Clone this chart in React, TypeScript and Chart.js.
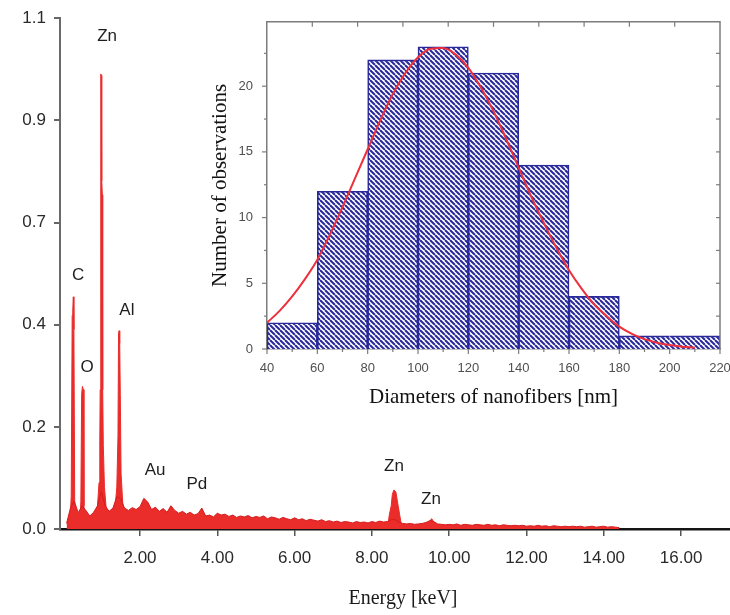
import React, { useEffect, useRef } from 'react';
import { Chart, registerables } from 'chart.js';

Chart.register(...registerables);

// ---------- EDX spectrum (main chart) ----------
const backgroundStartKeV = 0.1;
const backgroundStepKeV = 0.1;
const backgroundCounts = [
  0.012, 0.045, 0.06, 0.035, 0.05, 0.04, 0.028, 0.036, 0.05, 0.08,
  0.05, 0.038, 0.045, 0.07, 0.065, 0.045, 0.04, 0.046, 0.042, 0.048,
  0.066, 0.058, 0.042, 0.047, 0.038, 0.044, 0.036, 0.05, 0.04, 0.034,
  0.038, 0.032, 0.036, 0.03, 0.033, 0.045, 0.028, 0.03, 0.026, 0.034,
  0.03, 0.032, 0.027, 0.03, 0.025, 0.028, 0.026, 0.029, 0.024, 0.027,
  0.025, 0.028, 0.022, 0.026, 0.024, 0.021, 0.025, 0.022, 0.02, 0.024,
  0.02, 0.022, 0.018, 0.021, 0.019, 0.017, 0.02, 0.016, 0.018, 0.015,
  0.017, 0.014, 0.016, 0.015, 0.013, 0.016, 0.014, 0.015, 0.013, 0.016,
  0.014, 0.017, 0.015, 0.016, 0.02, 0.02, 0.015, 0.012, 0.011, 0.012,
  0.01, 0.011, 0.012, 0.014, 0.018, 0.016, 0.011, 0.01, 0.009, 0.01,
  0.009, 0.011, 0.008, 0.01, 0.009, 0.008, 0.01, 0.009, 0.008, 0.01,
  0.008, 0.009, 0.007, 0.009, 0.008, 0.007, 0.008, 0.007, 0.008, 0.006,
  0.007, 0.006, 0.008, 0.006, 0.007, 0.005, 0.007, 0.006, 0.005, 0.006,
  0.005, 0.006, 0.005, 0.006, 0.004, 0.005, 0.006, 0.004, 0.005, 0.006,
  0.004, 0.005, 0.004, 0.003,
];

// Characteristic peaks: C, O, Zn L, Al, Zn Kα, Zn Kβ
const peakEnergies = [
  0.18, 0.22, 0.245, 0.26, 0.275, 0.29, 0.31, 0.34,
  0.44, 0.47, 0.49, 0.51, 0.535, 0.55, 0.58,
  0.85, 0.9, 0.94, 0.96, 0.97, 0.98, 0.99, 1.0, 1.01, 1.025, 1.035, 1.05, 1.08, 1.12, 1.16,
  1.33, 1.37, 1.4, 1.43, 1.445, 1.46, 1.475, 1.49, 1.51, 1.55, 1.6,
  8.4, 8.45, 8.5, 8.53, 8.57, 8.62, 8.68, 8.72, 8.78,
  9.45, 9.5, 9.55, 9.6, 9.65,
];
const peakCounts = [
  0, 0.07, 0.46, 0.47, 0.5, 0.43, 0.06, 0,
  0, 0.06, 0.29, 0.307, 0.3, 0.05, 0,
  0, 0.05, 0.1, 0.19, 0.3, 0.71, 0.98, 0.977, 0.75, 0.72, 0.3, 0.18, 0.09, 0.05, 0,
  0, 0.06, 0.09, 0.2, 0.42, 0.427, 0.4, 0.29, 0.12, 0.06, 0,
  0, 0.03, 0.05, 0.075, 0.084, 0.08, 0.05, 0.03, 0,
  0, 0.018, 0.022, 0.015, 0,
];

const energyTicks = [2, 4, 6, 8, 10, 12, 14, 16];
const intensityTicks = [0, 0.22, 0.44, 0.66, 0.88, 1.1];

const elementLabels = ['Zn', 'C', 'O', 'Al', 'Au', 'Pd', 'Zn', 'Zn'];
const elementLabelEnergies = [1.15, 0.4, 0.63, 1.66, 2.39, 3.47, 8.57, 9.53];
const elementLabelHeights = [1.061, 0.546, 0.348, 0.47, 0.127, 0.097, 0.135, 0.064];

// ---------- Histogram of nanofiber diameters (inset) ----------
const diameterBinCenters = [50, 70, 90, 110, 130, 150, 170, 190, 210];
const diameterBinCounts = [2, 12, 22, 23, 21, 14, 4, 1, 1];

const fitDiameters = [
  40, 45, 50, 55, 60, 65, 70, 75, 80, 85, 90, 95, 100, 105, 110, 115, 120, 125,
  130, 135, 140, 145, 150, 155, 160, 165, 170, 175, 180, 185, 190, 195, 200, 205, 210,
];
const fitCounts = [
  2.0, 2.9, 4.0, 5.3, 6.8, 8.7, 10.8, 13.0, 15.2, 17.4, 19.4, 21.0, 22.2, 22.85, 22.9, 22.4, 21.4, 19.9,
  18.1, 16.0, 13.8, 11.6, 9.6, 7.7, 6.0, 4.6, 3.4, 2.5, 1.7, 1.15, 0.75, 0.48, 0.3, 0.18, 0.1,
];

const diameterTicks = [40, 60, 80, 100, 120, 140, 160, 180, 200, 220];
const observationTicks = [0, 5, 10, 15, 20];
const insetTopTickValues = [58, 76, 94, 112, 130, 148, 166, 184, 202];

const SPECTRUM_RED = 'rgb(234, 44, 42)';
const NAVY = '#28289a';

function makeHatch(color: string) {
  const size = 5;
  const c = document.createElement('canvas');
  c.width = size;
  c.height = size;
  const g = c.getContext('2d')!;
  g.fillStyle = '#ffffff';
  g.fillRect(0, 0, size, size);
  g.strokeStyle = color;
  g.lineWidth = 2;
  for (const k of [-size, 0, size]) {
    g.beginPath();
    g.moveTo(k, 0);
    g.lineTo(k + size, size);
    g.stroke();
  }
  return g.createPattern(c, 'repeat');
}

const elementLabelPlugin = {
  id: 'elementLabels',
  afterDatasetsDraw(chart: any) {
    const { ctx, scales } = chart;
    ctx.save();
    ctx.font = '17px "Liberation Sans", Arial, sans-serif';
    ctx.fillStyle = '#1e1e1e';
    ctx.textAlign = 'center';
    ctx.textBaseline = 'middle';
    elementLabels.forEach((t, i) => {
      const px = scales.x.getPixelForValue(elementLabelEnergies[i]);
      const py = scales.y.getPixelForValue(elementLabelHeights[i]);
      ctx.fillText(t, px, py);
    });
    ctx.restore();
  },
};

const insetFramePlugin = {
  id: 'insetFrame',
  afterDraw(chart: any) {
    const { ctx, chartArea, scales } = chart;
    const { left, right, top, bottom } = chartArea;
    const x = scales.x;
    const y = scales.y;
    const seg = (x1: number, y1: number, x2: number, y2: number) => {
      ctx.beginPath();
      ctx.moveTo(x1, y1);
      ctx.lineTo(x2, y2);
      ctx.stroke();
    };
    ctx.save();
    ctx.strokeStyle = '#7c7c7c';
    ctx.lineWidth = 1.5;
    ctx.beginPath();
    ctx.moveTo(left, top);
    ctx.lineTo(right, top);
    ctx.lineTo(right, bottom);
    ctx.stroke();
    ctx.lineWidth = 1.2;
    for (let v = 0; v <= y.max; v += 2.5) {
      const py = y.getPixelForValue(v);
      const len = v % 5 === 0 ? 5 : 3;
      seg(left - len, py, left, py);
      if (v > 0) seg(right - 4, py, right, py);
    }
    for (let v = 40; v <= 220; v += 10) {
      const px = x.getPixelForValue(v);
      const len = v % 20 === 0 ? 5 : 3;
      seg(px, bottom, px, bottom + len);
    }
    insetTopTickValues.forEach((v) => {
      const px = x.getPixelForValue(v);
      seg(px, top, px, top + 5);
    });
    ctx.restore();
  },
};

export default function App() {
  const mainRef = useRef<HTMLCanvasElement>(null);
  const insetRef = useRef<HTMLCanvasElement>(null);

  useEffect(() => {
    const backgroundPoints = backgroundCounts.map((y, i) => ({
      x: +(backgroundStartKeV + i * backgroundStepKeV).toFixed(2),
      y,
    }));
    const peakPoints = peakEnergies.map((x, i) => ({ x, y: peakCounts[i] }));

    const sansTick = { family: '"Liberation Sans", Arial, sans-serif', size: 17 };

    const main = new Chart(mainRef.current!, {
      type: 'line',
      data: {
        datasets: [
          {
            data: backgroundPoints,
            borderColor: 'rgb(212, 30, 30)',
            backgroundColor: SPECTRUM_RED,
            borderWidth: 1,
            fill: 'origin',
            pointRadius: 0,
            tension: 0,
          },
          {
            data: peakPoints,
            borderColor: SPECTRUM_RED,
            backgroundColor: SPECTRUM_RED,
            borderWidth: 1,
            fill: 'origin',
            pointRadius: 0,
            tension: 0,
          },
        ],
      },
      options: {
        animation: false,
        responsive: false,
        maintainAspectRatio: false,
        layout: { padding: { top: 17, left: 0, right: 0, bottom: 0 } },
        plugins: { legend: { display: false }, tooltip: { enabled: false } },
        scales: {
          x: {
            type: 'linear',
            min: -0.07,
            max: 17.68,
            z: 1,
            afterBuildTicks: (s: any) => {
              s.ticks = energyTicks.map((value) => ({ value }));
            },
            afterFit: (s: any) => {
              s.height = 86;
            },
            ticks: {
              callback: (v: any) => Number(v).toFixed(2),
              font: sansTick,
              color: '#2a2a2a',
              padding: 12,
              maxRotation: 0,
              autoSkip: false,
            },
            grid: { drawOnChartArea: false, drawTicks: true, tickLength: 7, color: '#555', lineWidth: 1.5 },
            border: { color: '#151515', width: 2.5 },
            title: {
              display: true,
              text: 'Energy [keV]',
              font: { family: '"Liberation Serif", "Times New Roman", serif', size: 20 },
              color: '#1a1a1a',
              padding: { top: 0, bottom: 4 },
            },
          },
          y: {
            min: 0,
            max: 1.1,
            afterBuildTicks: (s: any) => {
              s.ticks = intensityTicks.map((value) => ({ value }));
            },
            afterFit: (s: any) => {
              s.width = 60;
            },
            ticks: {
              callback: (v: any) => Number(v).toFixed(1),
              font: sansTick,
              color: '#2a2a2a',
              padding: 8,
            },
            grid: { drawOnChartArea: false, drawTicks: true, tickLength: 6, color: '#666', lineWidth: 2 },
            border: { color: '#6a6a6a', width: 2 },
          },
        },
      },
      plugins: [elementLabelPlugin],
    } as any);

    const hatch = makeHatch(NAVY);
    const binPoints = diameterBinCenters.map((x, i) => ({ x, y: diameterBinCounts[i] }));
    const fitPoints = fitDiameters.map((x, i) => ({ x, y: fitCounts[i] }));
    const lastIndex = diameterBinCenters.length - 1;

    const inset = new Chart(insetRef.current!, {
      type: 'bar',
      data: {
        datasets: [
          {
            type: 'line',
            data: fitPoints,
            borderColor: '#ee2f3c',
            borderWidth: 2,
            pointRadius: 0,
            cubicInterpolationMode: 'monotone',
            fill: false,
            order: 0,
          },
          {
            type: 'bar',
            data: binPoints,
            backgroundColor: hatch,
            borderColor: NAVY,
            borderWidth: (ctx: any) => {
              const i = ctx.dataIndex;
              if (i === lastIndex - 1) return { top: 1.6, left: 1.6, right: 0, bottom: 0 };
              if (i === lastIndex) return { top: 1.6, left: 0, right: 1.6, bottom: 0 };
              return { top: 1.6, left: 1.6, right: 1.6, bottom: 0 };
            },
            borderSkipped: false,
            barPercentage: 1,
            categoryPercentage: 1,
            order: 1,
          },
        ],
      },
      options: {
        animation: false,
        responsive: false,
        maintainAspectRatio: false,
        layout: { padding: { top: 13, right: 40, left: 0, bottom: 0 } },
        plugins: { legend: { display: false }, tooltip: { enabled: false } },
        scales: {
          x: {
            type: 'linear',
            min: 40,
            max: 220,
            offset: false,
            afterBuildTicks: (s: any) => {
              s.ticks = diameterTicks.map((value) => ({ value }));
            },
            afterFit: (s: any) => {
              s.height = 63;
            },
            ticks: {
              font: { family: '"Liberation Sans", Arial, sans-serif', size: 13 },
              color: '#505050',
              padding: 12,
              maxRotation: 0,
              autoSkip: false,
            },
            grid: { display: false, drawTicks: false },
            border: { color: '#7c7c7c', width: 1.5 },
            title: {
              display: true,
              text: 'Diameters of nanofibers [nm]',
              font: { family: '"Liberation Serif", "Times New Roman", serif', size: 21 },
              color: '#111',
              padding: { top: 0, bottom: 2 },
            },
          },
          y: {
            min: 0,
            max: 24.9,
            afterBuildTicks: (s: any) => {
              s.ticks = observationTicks.map((value) => ({ value }));
            },
            afterFit: (s: any) => {
              s.width = 67;
            },
            ticks: {
              font: { family: '"Liberation Sans", Arial, sans-serif', size: 13 },
              color: '#505050',
              padding: 14,
            },
            grid: { display: false, drawTicks: false },
            border: { color: '#7c7c7c', width: 1.5 },
            title: {
              display: true,
              text: 'Number of observations',
              font: { family: '"Liberation Serif", "Times New Roman", serif', size: 21 },
              color: '#111',
              padding: { top: 8, bottom: 0 },
            },
          },
        },
      },
      plugins: [insetFramePlugin],
    } as any);

    return () => {
      main.destroy();
      inset.destroy();
    };
  }, []);

  return (
    <div
      style={{
        position: 'fixed',
        left: 0,
        top: 0,
        width: 730,
        height: 615,
        overflow: 'hidden',
        background: '#ffffff',
      }}
    >
      <canvas
        ref={mainRef}
        width={746}
        height={615}
        style={{ position: 'absolute', left: 0, top: 0, width: 746, height: 615 }}
      />
      <canvas
        ref={insetRef}
        width={560}
        height={412}
        style={{ position: 'absolute', left: 200, top: 0, width: 560, height: 412 }}
      />
    </div>
  );
}
